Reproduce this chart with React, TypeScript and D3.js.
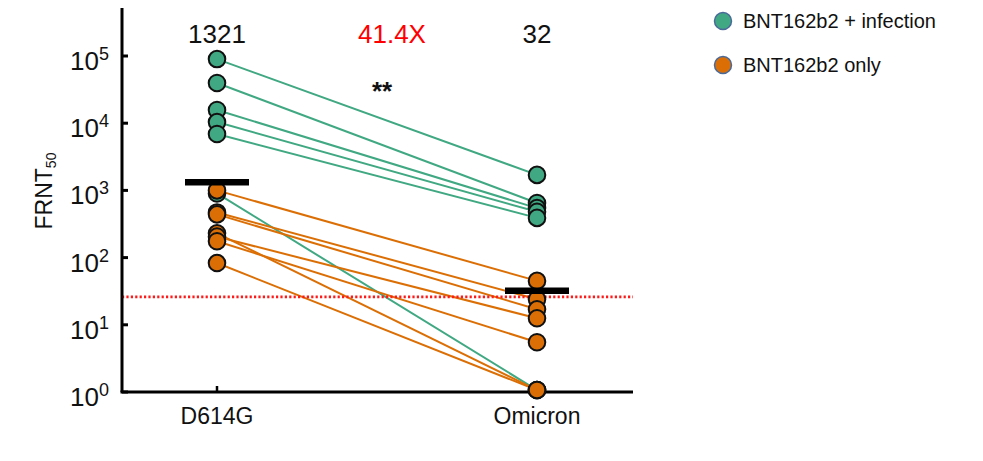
import { scaleLog, scalePoint } from "d3";

const categories = ["D614G", "Omicron"];

// BNT162b2 + infection (paired, D614G -> Omicron)
const infectedD614G = [90000, 39600, 15700, 10400, 6900, 900];
const infectedOmicron = [1700, 650, 545, 480, 390, 1.07];

// BNT162b2 only
const vaccOnlyD614G = [1000, 470, 440, 230, 205, 175, 83];
const vaccOnlyOmicron = [45, 24, 17, 1.07, 12.5, 5.5, 1.07];

const geoMeans = [1321, 32];
const foldLabel = "41.4X";
const detectionLimit = 26;
const yTicks = [1, 10, 100, 1000, 10000, 100000];
const yAxisTop = 520000;

const GREEN = "#40a882";
const ORANGE = "#db6f05";

export default function App() {
  const width = 983;
  const height = 461;
  const axisX = 122;
  const axisRight = 633;

  const y = scaleLog().domain([1, 100000]).range([392, 56]);
  const x = scalePoint<string>().domain(categories).range([217, 537]);

  const x0 = x(categories[0]) ?? 0;
  const x1 = x(categories[1]) ?? 0;

  const series = [
    { name: "BNT162b2 + infection", color: GREEN, a: infectedD614G, b: infectedOmicron },
    { name: "BNT162b2 only", color: ORANGE, a: vaccOnlyD614G, b: vaccOnlyOmicron },
  ];

  return (
    <svg
      width={width}
      height={height}
      style={{ position: "absolute", left: 0, top: 0, background: "#fff" }}
      fontFamily="'Liberation Sans', Arial, sans-serif"
    >
      {/* paired lines */}
      {series.map((s) =>
        s.a.map((v, i) => (
          <line
            key={`${s.name}-l-${i}`}
            x1={x0}
            y1={y(v)}
            x2={x1}
            y2={y(s.b[i])}
            stroke={s.color}
            strokeWidth={2}
          />
        ))
      )}

      {/* limit of detection */}
      <line
        x1={axisX}
        x2={axisRight}
        y1={y(detectionLimit)}
        y2={y(detectionLimit)}
        stroke="#ff1a1a"
        strokeWidth={2.6}
        strokeDasharray="2.2 2.2"
      />

      {/* axes */}
      <line x1={axisX} x2={axisX} y1={y(1)} y2={y(yAxisTop)} stroke="#000" strokeWidth={3} />
      <line x1={axisX - 1.5} x2={axisRight} y1={y(1)} y2={y(1)} stroke="#000" strokeWidth={3} />
      {yTicks.map((t) => (
        <g key={t}>
          <line x1={axisX} x2={axisX + 6} y1={y(t)} y2={y(t)} stroke="#000" strokeWidth={3} />
          <text x={109} y={y(t) + 14} textAnchor="end" fill="#111">
            <tspan fontSize={26}>10</tspan>
            <tspan fontSize={18} dy={-10}>
              {Math.round(Math.log10(t))}
            </tspan>
          </text>
        </g>
      ))}
      {categories.map((c) => (
        <g key={c}>
          <line x1={x(c)} x2={x(c)} y1={y(1)} y2={y(1) - 6} stroke="#000" strokeWidth={2.5} />
          <text x={x(c)} y={424} textAnchor="middle" fontSize={23} fill="#111">
            {c}
          </text>
        </g>
      ))}

      {/* points */}
      {series.map((s) =>
        [
          ...s.a.map((v, i) => ({ cx: x0, v, k: `a${i}` })),
          ...s.b.map((v, i) => ({ cx: x1, v, k: `b${i}` })),
        ].map((p) => (
          <circle
            key={`${s.name}-${p.k}`}
            cx={p.cx}
            cy={y(p.v)}
            r={8.3}
            fill={s.color}
            stroke="#111"
            strokeWidth={2}
          />
        ))
      )}

      {/* geometric mean bars */}
      {geoMeans.map((g, i) => (
        <line
          key={`gm-${i}`}
          x1={(x(categories[i]) ?? 0) - 32}
          x2={(x(categories[i]) ?? 0) + 32}
          y1={y(g)}
          y2={y(g)}
          stroke="#000"
          strokeWidth={6.5}
        />
      ))}

      {/* y title */}
      <text transform="translate(52,191) rotate(-90)" textAnchor="middle" fill="#111">
        <tspan fontSize={23}>FRNT</tspan>
        <tspan fontSize={14} dy={4}>
          50
        </tspan>
      </text>

      {/* annotations */}
      {geoMeans.map((g, i) => (
        <text key={`gml-${i}`} x={x(categories[i])} y={43} textAnchor="middle" fontSize={26} fill="#111">
          {g}
        </text>
      ))}
      <text x={(x0 + x1) / 2 + 15} y={43} textAnchor="middle" fontSize={26} fill="#ff0000">
        {foldLabel}
      </text>
      <text x={382} y={100} textAnchor="middle" fontSize={26} fontWeight="bold" fill="#111">
        **
      </text>

      {/* legend */}
      {series.map((s, i) => (
        <g key={`lg-${i}`} transform={`translate(723, ${21 + i * 44})`}>
          <circle r={8.5} fill={s.color} stroke="#4a6a9a" strokeWidth={1.5} />
          <text x={20} y={7} fontSize={20} fill="#111">
            {s.name}
          </text>
        </g>
      ))}
    </svg>
  );
}
